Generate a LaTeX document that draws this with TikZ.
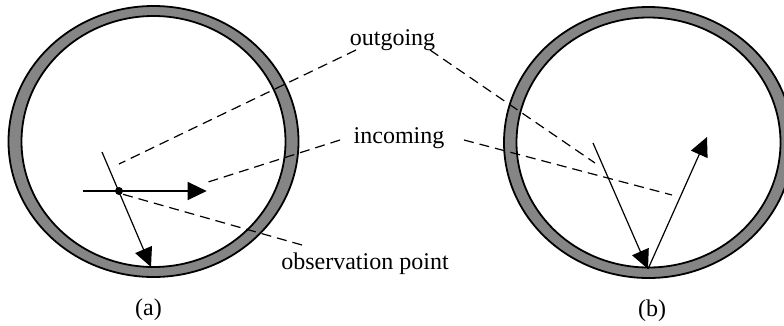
\documentclass[tikz,border=0pt]{standalone}
\usepackage{fontspec}
\setmainfont{Liberation Serif}
\usetikzlibrary{arrows.meta}

\begin{document}
\begin{tikzpicture}[x=1pt,y=-1pt,
  ring/.style={draw=black,line width=1.8pt,fill=black!48},
  hole/.style={draw=black,line width=1.8pt,fill=white},
  ray/.style={line width=1.2pt,-{Triangle[length=19pt,width=18pt]}},
  lead/.style={line width=1.2pt,dash pattern=on 10pt off 6pt},
  lbl/.style={anchor=base,inner sep=0pt,font=\fontsize{24}{28}\selectfont}]
 \useasboundingbox (0,0) rectangle (784,325);
 \clip (0,0) rectangle (784,325);
 % the two vessels
 \draw[ring] (153.5,141.5) ellipse [x radius=145,y radius=135.5];
 \draw[hole] (153.5,141.5) ellipse [x radius=132,y radius=125.5];
 \draw[ring] (648.5,142.5) ellipse [x radius=144.5,y radius=135.5];
 \draw[hole] (648.5,142.5) ellipse [x radius=132,y radius=125];
 % labels
 \node[lbl] (outg) at (392.5,45) {outgoing};
 \node[lbl] (inc)  at (399,143.5) {incoming};
 \node[lbl] (obs)  at (365,269) {observation point};
 \node[lbl] (capa) at (148.5,315) {(a)};
 \node[lbl] (capb) at (652,316) {(b)};
 % (a) observation point with rays
 \coordinate (P) at (119,191);
 \coordinate (hs) at (83,191);   \coordinate (he) at (206.7,191);
 \coordinate (ss) at (102,152);  \coordinate (se) at (151,267);
 \draw[ray] (hs) -- (he);
 \draw[ray] (ss) -- (se);
 \fill (P) circle (4);
 % (b) reflection at the wall
 \coordinate (bs) at (593,143);  \coordinate (bw) at (648,269);
 \coordinate (be) at (707,137);
 \draw[ray] (bs) -- (bw);
 \draw[ray] (bw) -- (be);
 % leaders
 \coordinate (oL) at (356,50);  \coordinate (oR) at (430,50);
 \coordinate (iL) at (340,140); \coordinate (iR) at (464,140);
 \coordinate (pL) at (302,245);
 \draw[lead] (oL) -- (119,164);
 \draw[lead] (oR) -- (595,163);
 \draw[lead] (iL) -- (205,183);
 \draw[lead] (iR) -- (672,195);
 \draw[lead] (pL) -- (122,194);
\end{tikzpicture}
\end{document}
